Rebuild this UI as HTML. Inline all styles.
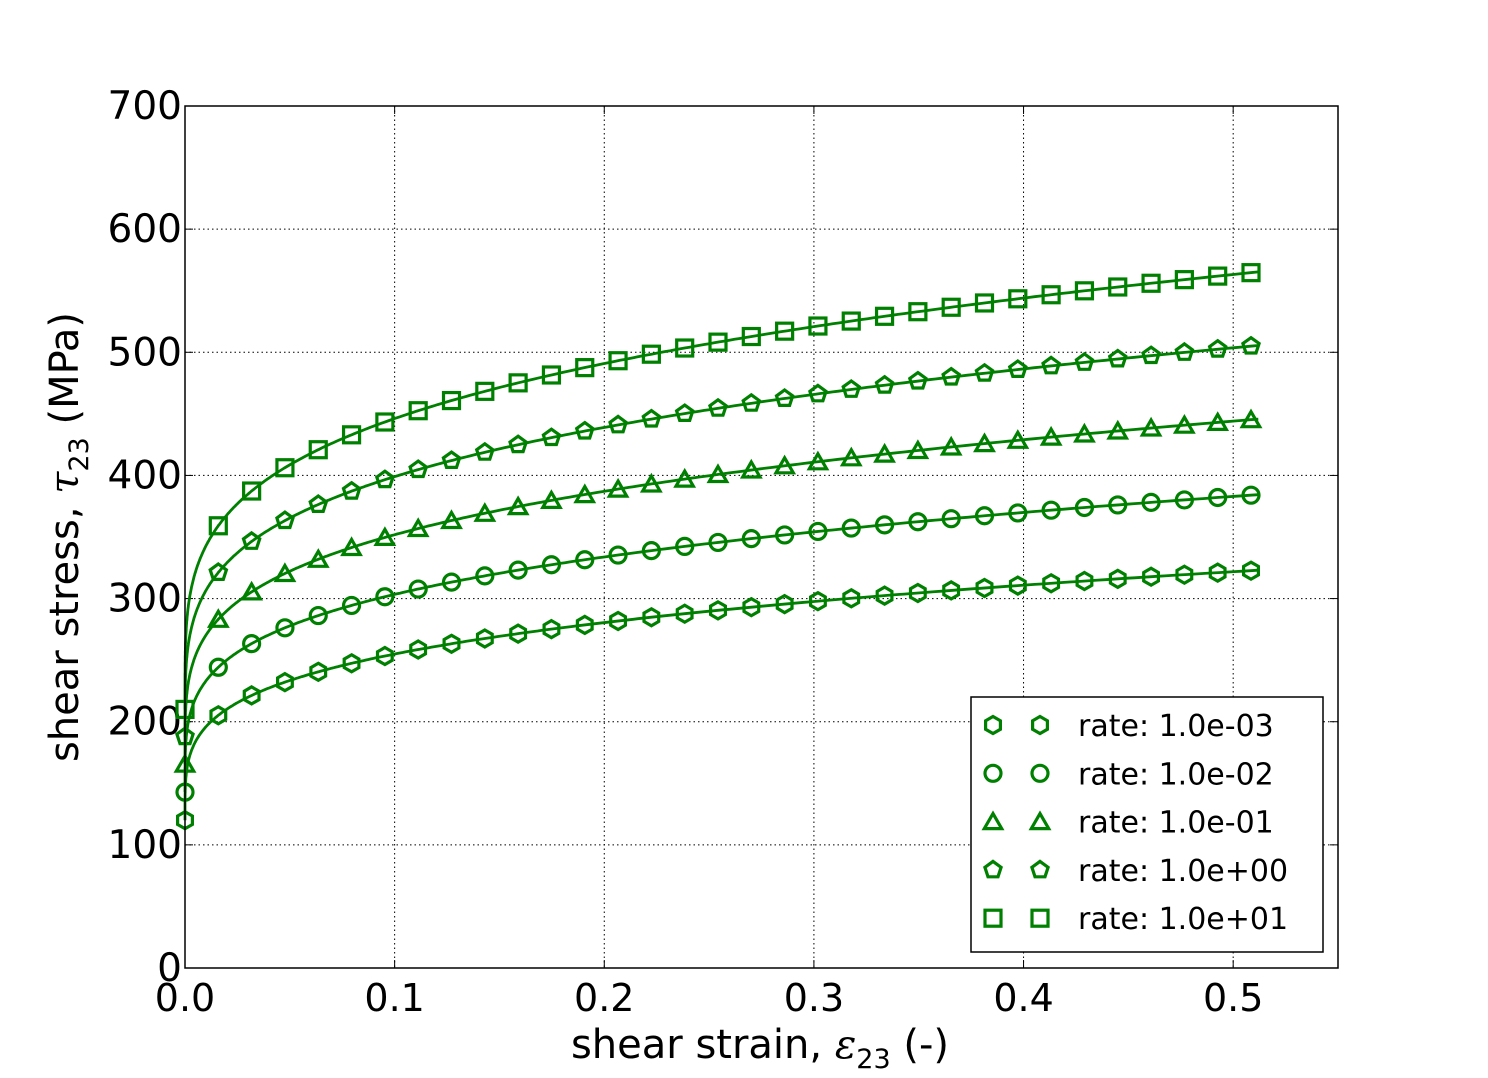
<!DOCTYPE html>
<html><head><meta charset="utf-8">
<style>
html,body{margin:0;padding:0;background:#fff;}
svg{display:block;font-family:"DejaVu Sans","Liberation Sans",sans-serif;}
</style></head>
<body>
<svg id="s" width="1488" height="1078" xmlns="http://www.w3.org/2000/svg"></svg>
<script>
const S=document.getElementById('s');
const L=185,R=1338,T=106,B=968;
const X=e=>L+e/0.55*(R-L), Y=v=>B-v/700*(B-T);
let h='';
for(let i=1;i<=5;i++){const x=X(i/10);h+=`<line x1="${x}" y1="${T}" x2="${x}" y2="${B}" stroke="#000" stroke-width="1" stroke-dasharray="1.5,3"/>`;}
for(let v=100;v<=600;v+=100){const y=Y(v);h+=`<line x1="${L}" y1="${y}" x2="${R}" y2="${y}" stroke="#000" stroke-width="1" stroke-dasharray="1.5,3"/>`;}
for(let i=0;i<=5;i++){const x=X(i/10);h+=`<line x1="${x}" y1="${B}" x2="${x}" y2="${B-8}" stroke="#000"/><line x1="${x}" y1="${T}" x2="${x}" y2="${T+8}" stroke="#000"/><text x="${x}" y="1011" font-size="38" text-anchor="middle">${(i/10).toFixed(1)}</text>`;}
for(let v=0;v<=700;v+=100){const y=Y(v);h+=`<line x1="${L}" y1="${y}" x2="${L+8}" y2="${y}" stroke="#000"/><line x1="${R}" y1="${y}" x2="${R-8}" y2="${y}" stroke="#000"/><text x="${L-3}" y="${y+13}" font-size="39" text-anchor="end">${v}</text>`;}
const G='#008000';
function mk(t,x,y){const r=8;let p='';
 if(t==='c')return `<circle cx="${x}" cy="${y}" r="${r}" fill="none" stroke="${G}" stroke-width="3.2"/>`;
 if(t==='s')return `<rect x="${x-r}" y="${y-r}" width="${2*r}" height="${2*r}" fill="none" stroke="${G}" stroke-width="3.2"/>`;
 let n={h:6,t:3,p:5}[t], rr=t==='t'?10:8.5;
 for(let k=0;k<n;k++){const a=-Math.PI/2+2*Math.PI*k/n;p+=(x+rr*Math.cos(a)).toFixed(1)+','+(y+rr*Math.sin(a)+(t==='t'?2:0)).toFixed(1)+' ';}
 return `<polygon points="${p}" fill="none" stroke="${G}" stroke-width="3.2"/>`;}
const fs=[1,1.19,1.38,1.565,1.75], ty=['h','c','t','p','s'];
const f=(e,k)=>fs[k]*(120+240*Math.pow(e,0.25));
let body='';
fs.forEach((_,k)=>{let d='';for(let i=0;i<=400;i++){const e=0.512*Math.pow(i/400,3);d+=(i?'L':'M')+X(e).toFixed(1)+','+Y(f(e,k)).toFixed(1);}
 body+=`<path d="${d}" fill="none" stroke="${G}" stroke-width="2.8"/>`;
 for(let j=0;j<=32;j++){const e=0.5085*j/32;body+=mk(ty[k],X(e),Y(f(e,k)));}});
h+=`<clipPath id="cp"><rect x="${L-12}" y="${T}" width="${R-L+12}" height="${B-T+12}"/></clipPath><g clip-path="url(#cp)">${body}</g>`;
h+=`<rect x="${L}" y="${T}" width="${R-L}" height="${B-T}" fill="none" stroke="#000" stroke-width="1.5"/>`;
h+=`<rect x="971" y="697" width="352" height="255" fill="#fff" stroke="#000" stroke-width="1.5"/>`;
const lab=['1.0e-03','1.0e-02','1.0e-01','1.0e+00','1.0e+01'];
lab.forEach((l,k)=>{const y=725+k*48.3;h+=mk(ty[k],993,y)+mk(ty[k],1040,y)+`<text x="1078" y="${y+11}" font-size="30">rate: ${l}</text>`;});
h+=`<text x="760" y="1058" font-size="40" text-anchor="middle">shear strain, <tspan font-family="DejaVu Serif,serif" font-style="italic">ε</tspan><tspan font-size="27" dy="10">23</tspan><tspan dy="-10"> (-)</tspan></text>`;
h+=`<text transform="translate(78,537) rotate(-90)" font-size="40" text-anchor="middle">shear stress, <tspan font-family="DejaVu Serif,serif" font-style="italic">τ</tspan><tspan font-size="27" dy="10">23</tspan><tspan dy="-10"> (MPa)</tspan></text>`;
S.innerHTML=h;
</script>
</body></html>
